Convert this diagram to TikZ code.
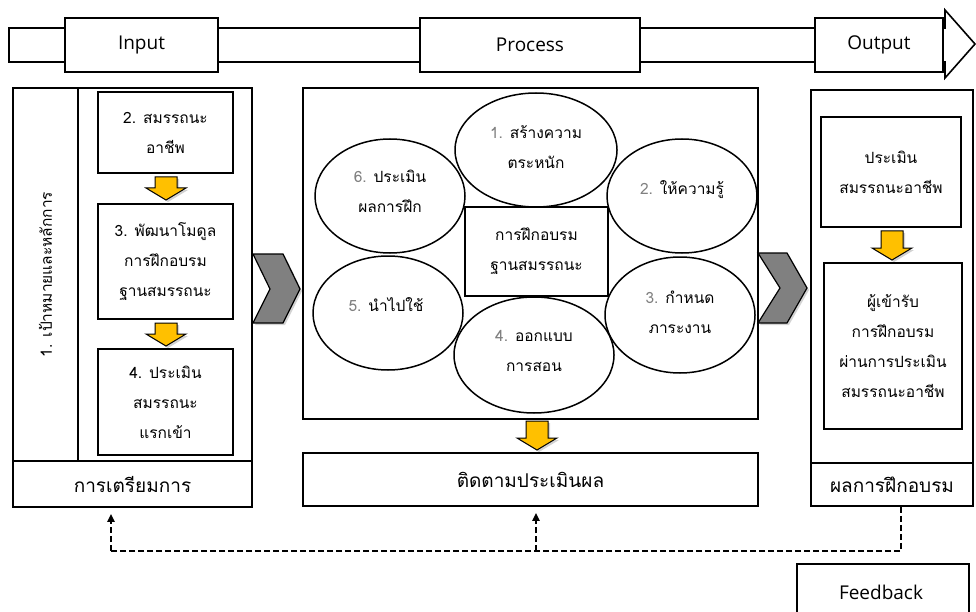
\documentclass[tikz,border=0pt]{standalone}
\usepackage{fontspec}
\setmainfont{Open Sans}
\newfontfamily\thai[Script=Thai]{Loma}
\usetikzlibrary{shadows,arrows.meta,shapes.geometric}
\definecolor{yarr}{HTML}{FFC000}
\definecolor{chev}{HTML}{808080}
\definecolor{numgray}{HTML}{808080}
\tikzset{
  frame/.style={draw, line width=1.6pt, fill=white, inner sep=0pt},
  thtext/.style={font=\thai\fontsize{15.5}{30}\selectfont, align=center},
  bigth/.style={font=\thai\fontsize{19}{24}\selectfont},
  lat/.style={font=\fontsize{19}{22}\selectfont},
  ell/.style={draw, line width=1.5pt, ellipse, inner sep=0pt},
  yarrow/.style={draw, line width=1pt, fill=yarr, drop shadow={shadow xshift=2pt, shadow yshift=-2pt, opacity=0.35}},
  chevron/.style={draw, line width=1.2pt, fill=chev, drop shadow={shadow xshift=2pt, shadow yshift=-2pt, opacity=0.35}},
  fbline/.style={line width=2pt, dash pattern=on 6pt off 3pt},
}
\newcommand{\yblockarrow}[4]{% cx, ytop, ybot, head half width
  \path[yarrow] (#1-#4*0.55,#2) -- (#1+#4*0.55,#2) -- (#1+#4*0.55,#3-12) -- (#1+#4,#3-12) -- (#1,#3) -- (#1-#4,#3-12) -- (#1-#4*0.55,#3-12) -- cycle;}
\begin{document}
\begin{tikzpicture}[x=1pt,y=-1pt]
\useasboundingbox (0,0) rectangle (976,612);
% top band arrow
\draw[line width=1.6pt, fill=white] (9,28) -- (945,28) -- (945,10) -- (975,44) -- (945,78) -- (945,62) -- (9,62) -- cycle;
\node[frame, lat, minimum width=153, minimum height=54] (inp) at (141.5,45) {Input};
\node[frame, lat, minimum width=220, minimum height=54] (proc) at (530,45) {Process};
\node[frame, lat, minimum width=128, minimum height=54] (outp) at (879,45) {Output};

% left panel
\node[frame, minimum width=65, minimum height=373] (goal) at (45.5,274.5) {};
\node[thtext, rotate=90] at (goal) {1. เป้าหมายและหลักการ};
\node[frame, minimum width=174, minimum height=373] (inarea) at (165,274.5) {};
\node[frame, bigth, minimum width=239, minimum height=46] (prep) at (132.5,484) {การเตรียมการ};
\node[frame, thtext, minimum width=135, minimum height=81] (b2) at (165.5,132.5) {2. สมรรถนะ\\อาชีพ};
\node[frame, thtext, minimum width=135, minimum height=115] (b3) at (165.5,261.5) {3. พัฒนาโมดูล\\การฝึกอบรม\\ฐานสมรรถนะ};
\node[frame, thtext, minimum width=135, minimum height=106] (b4) at (165.5,402) {4. ประเมิน\\สมรรถนะ\\แรกเข้า};
\yblockarrow{166}{177}{200}{20}
\yblockarrow{166}{323}{346}{20}

% chevron 1
\path[chevron] (253,254) -- (283,254) -- (300,289) -- (283,323) -- (253,323) -- (270,289) -- cycle;

% middle panel
\node[frame, minimum width=455, minimum height=331] (procarea) at (530.5,253.5) {};
\node[frame, bigth, minimum width=455, minimum height=53] (monitor) at (530.5,479.5) {ติดตามประเมินผล};
\yblockarrow{537}{421}{450}{20}
\node[ell, minimum width=162, minimum height=114] (e1) at (536,150) {};
\node[ell, minimum width=150, minimum height=114] (e6) at (390,196) {};
\node[ell, minimum width=150, minimum height=114] (e5) at (388,313) {};
\node[ell, minimum width=160, minimum height=116] (e4) at (534,355) {};
\node[ell, minimum width=150, minimum height=114] (e2) at (682,196) {};
\node[ell, minimum width=150, minimum height=116] (e3) at (680,315) {};
\node[frame, thtext, minimum width=143, minimum height=89] (core) at (536.5,251.5) {การฝึกอบรม\\ฐานสมรรถนะ};
\node[thtext] at (536,147) {\textcolor{numgray}{1.} สร้างความ\\ตระหนัก};
\node[thtext] at (390,191) {\textcolor{numgray}{6.} ประเมิน\\ผลการฝึก};
\node[thtext] at (386,305) {\textcolor{numgray}{5.} นำไปใช้};
\node[thtext] at (534,351) {\textcolor{numgray}{4.} ออกแบบ\\การสอน};
\node[thtext] at (682,190) {\textcolor{numgray}{2.} ให้ความรู้};
\node[thtext] at (680,312) {\textcolor{numgray}{3.} กำหนด\\ภาระงาน};

% chevron 2
\path[chevron] (758,253) -- (787,253) -- (807,288) -- (787,323) -- (758,323) -- (780,288) -- cycle;

% right panel
\node[frame, minimum width=162, minimum height=373] (outarea) at (892,276.5) {};
\node[frame, bigth, minimum width=162, minimum height=43] (result) at (892,484.5) {ผลการฝึกอบรม};
\node[frame, thtext, minimum width=140, minimum height=110] (ba) at (891,172) {ประเมิน\\สมรรถนะอาชีพ};
\node[frame, thtext, minimum width=138, minimum height=166] (bb) at (893,346) {ผู้เข้ารับ\\การฝึกอบรม\\ผ่านการประเมิน\\สมรรถนะอาชีพ};
\yblockarrow{892}{231}{260}{20}

% feedback loop
\coordinate (fL) at (111,551);
\coordinate (fM) at (536,551);
\coordinate (fR) at (901,551);
\draw[fbline] (result.south -| fR) -- (fR) -- (fL);
\draw[fbline, -{Triangle[length=8pt,width=7pt]}, shorten >=6pt] (fL) -- (fL |- prep.south);
\draw[fbline, -{Triangle[length=8pt,width=7pt]}, shorten >=6pt] (fM) -- (fM |- monitor.south);
\node[draw, line width=1.6pt, lat, minimum width=172, minimum height=60] (fb) at (883,594) {};
\node[lat] at (881,592) {Feedback};
\end{tikzpicture}
\end{document}
